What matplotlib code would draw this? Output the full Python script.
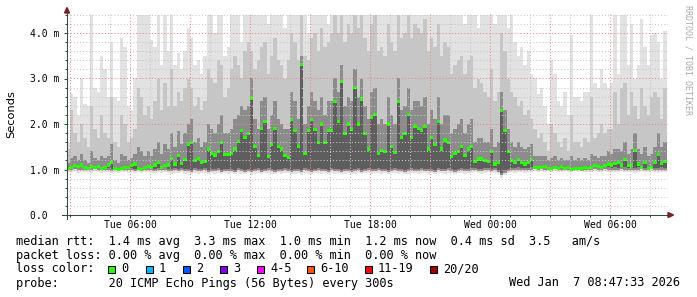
import numpy as np
import matplotlib
matplotlib.use('Agg')
import matplotlib.pyplot as plt
from matplotlib.patches import Polygon, Rectangle
from matplotlib.lines import Line2D
from matplotlib.transforms import IdentityTransform

W, H = 697, 297
MONO = 'DejaVu Sans Mono'

# 10-minute bins, hours since Tue 00:00 (first bin starts Tue 02:50)
START = 2 + 50 / 60
STEP = 1 / 6

# median rtt per bin (ms)
med = [1.03, 1.05, 1.08, 1.06, 1.10, 1.04, 1.02, 1.06, 1.05, 1.07, 1.03, 1.05,
       1.10, 1.15, 1.03, 1.00, 1.02, 1.05, 1.04, 1.08, 1.12, 1.02, 1.00, 1.05,
       1.06, 1.04, 1.10, 1.16, 1.05, 1.08, 1.10, 1.25, 1.12, 1.30, 1.14, 1.22,
       1.55, 1.60, 1.20, 1.25, 1.15, 1.18, 1.45, 1.35, 1.32, 1.40, 1.60, 1.33,
       1.33, 1.36, 1.45, 1.62, 1.86, 1.70, 1.80, 2.57, 1.50, 1.30, 1.90, 2.05,
       1.28, 1.55, 1.90, 1.50, 1.45, 1.30, 1.27, 2.10, 1.85, 1.50, 3.30, 1.35,
       1.85, 2.10, 1.88, 1.60, 2.00, 1.60, 1.85, 1.85, 2.50, 2.05, 2.93, 1.80,
       2.00, 1.88, 2.80, 2.00, 2.55, 1.80, 1.45, 2.15, 2.20, 1.35, 1.42, 1.40,
       2.00, 1.50, 1.38, 2.50, 1.70, 1.80, 2.20, 1.70, 1.95, 1.90, 1.85, 1.95,
       1.45, 1.70, 1.55, 2.05, 1.45, 1.65, 1.60, 1.28, 1.35, 1.40, 1.50, 1.30,
       1.45, 1.50, 1.18, 1.23, 1.23, 1.20, 1.18, 1.40, 1.12, 1.15, 2.30, 1.85,
       1.40, 1.20, 1.15, 1.22, 1.15, 1.12, 1.15, 1.22, 1.05, 1.05, 1.05, 1.06,
       1.03, 1.02, 1.05, 1.03, 1.06, 1.02, 1.04, 1.00, 1.02, 1.03, 1.01, 1.04,
       1.02, 1.05, 1.08, 1.06, 1.04, 1.08, 1.12, 1.10, 1.13, 1.16, 1.10, 1.22,
       1.08, 1.10, 1.42, 1.12, 1.05, 1.15, 1.02, 1.05, 1.15, 1.33, 1.13, 1.18]

# smoke: lowest ping, upper edge of dark smoke, upper edge of mid smoke, highest ping
lo = [0.95, 0.94, 0.96, 0.93, 0.95, 0.94, 0.95, 0.93, 0.96, 0.94, 0.93, 0.95,
      0.94, 0.92, 0.95, 0.93, 0.94, 0.95, 0.93, 0.94, 0.92, 0.94, 0.93, 0.95,
      0.94, 0.93, 0.92, 0.94, 0.93, 0.95, 0.92, 0.91, 0.93, 0.92, 0.94, 0.91,
      0.92, 0.90, 0.93, 0.91, 0.92, 0.93, 0.90, 0.92, 0.91, 0.93, 0.90, 0.92,
      0.91, 0.92, 0.90, 0.93, 0.91, 0.90, 0.92, 0.89, 0.91, 0.93, 0.90, 0.92,
      0.93, 0.91, 0.90, 0.92, 0.91, 0.93, 0.92, 0.90, 0.91, 0.92, 0.89, 0.93,
      0.91, 0.90, 0.92, 0.93, 0.91, 0.92, 0.90, 0.93, 0.91, 0.92, 0.90, 0.91,
      0.92, 0.90, 0.91, 0.93, 0.90, 0.92, 0.93, 0.91, 0.92, 0.93, 0.91, 0.92,
      0.90, 0.92, 0.93, 0.91, 0.92, 0.90, 0.91, 0.93, 0.92, 0.91, 0.93, 0.92,
      0.91, 0.92, 0.90, 0.93, 0.92, 0.91, 0.93, 0.92, 0.90, 0.92, 0.93, 0.91,
      0.92, 0.93, 0.94, 0.92, 0.91, 0.93, 0.94, 0.92, 0.93, 0.90, 0.82, 0.88,
      0.92, 0.94, 0.93, 0.95, 0.94, 0.93, 0.94, 0.95, 0.96, 0.95, 0.96, 0.95,
      0.96, 0.95, 0.96, 0.94, 0.95, 0.96, 0.95, 0.94, 0.96, 0.95, 0.96, 0.95,
      0.95, 0.94, 0.96, 0.95, 0.94, 0.96, 0.95, 0.94, 0.95, 0.94, 0.96, 0.95,
      0.94, 0.95, 0.93, 0.95, 0.96, 0.94, 0.95, 0.96, 0.94, 0.93, 0.95, 0.94]

dk = [1.15, 1.25, 1.30, 1.20, 1.35, 1.20, 1.15, 1.40, 1.25, 1.20, 1.30, 1.25,
      1.30, 1.55, 1.20, 1.15, 1.35, 1.30, 1.20, 1.25, 1.35, 1.50, 1.40, 1.30,
      1.40, 1.30, 1.45, 1.60, 1.35, 1.55, 1.45, 1.80, 1.50, 1.85, 1.55, 1.80,
      2.00, 2.10, 1.60, 1.70, 1.50, 1.60, 2.00, 1.90, 1.80, 2.00, 2.20, 1.80,
      1.80, 1.90, 2.10, 2.20, 2.40, 2.30, 2.40, 3.00, 2.10, 1.90, 2.50, 2.60,
      1.90, 2.20, 2.50, 2.10, 2.00, 1.90, 1.90, 2.70, 2.50, 2.10, 3.50, 2.00,
      2.40, 2.70, 2.50, 2.30, 2.60, 2.20, 2.50, 2.50, 3.00, 2.70, 3.30, 2.40,
      2.60, 2.50, 3.20, 2.60, 3.00, 2.40, 2.10, 2.70, 2.80, 2.00, 2.10, 2.00,
      2.60, 2.20, 2.00, 3.00, 2.30, 2.40, 2.80, 2.30, 2.50, 2.50, 2.40, 2.60,
      2.00, 2.30, 2.10, 2.60, 2.00, 2.20, 2.20, 1.80, 1.90, 2.00, 2.10, 1.80,
      2.00, 2.10, 1.60, 1.70, 1.70, 1.60, 1.60, 1.90, 1.50, 1.60, 2.70, 2.30,
      1.90, 1.60, 1.50, 1.60, 1.50, 1.45, 1.50, 1.55, 1.30, 1.30, 1.30, 1.30,
      1.20, 1.25, 1.30, 1.20, 1.25, 1.20, 1.20, 1.30, 1.20, 1.25, 1.20, 1.25,
      1.20, 1.35, 1.30, 1.25, 1.30, 1.30, 1.40, 1.35, 1.45, 1.45, 1.40, 1.60,
      1.35, 1.45, 1.80, 1.45, 1.35, 1.50, 1.30, 1.35, 1.50, 1.80, 1.50, 1.60]

up = [1.45, 2.30, 1.80, 1.60, 2.00, 1.70, 1.50, 2.40, 1.90, 1.70, 2.20, 1.80,
      1.70, 2.60, 1.60, 1.50, 2.20, 2.00, 1.60, 1.70, 1.90, 2.80, 2.60, 2.20,
      2.40, 2.10, 2.50, 3.00, 2.30, 2.90, 2.40, 3.20, 2.40, 2.70, 2.50, 2.80,
      3.00, 2.80, 2.40, 2.60, 2.30, 2.50, 3.20, 3.00, 2.90, 3.40, 3.30, 2.60,
      2.80, 3.20, 3.50, 3.30, 3.00, 3.60, 3.80, 3.60, 3.20, 3.40, 3.70, 3.80,
      3.10, 3.50, 3.90, 3.40, 3.30, 3.00, 3.40, 4.00, 3.80, 3.40, 4.40, 3.50,
      3.40, 3.90, 4.00, 3.60, 4.10, 3.70, 3.80, 4.00, 4.40, 4.00, 4.40, 3.80,
      4.20, 4.00, 4.40, 4.10, 4.40, 3.90, 3.60, 4.20, 4.40, 3.60, 3.70, 3.50,
      4.20, 3.80, 3.60, 4.40, 3.90, 4.00, 4.40, 3.90, 4.20, 4.10, 4.00, 4.30,
      3.60, 3.90, 3.70, 4.20, 3.50, 3.80, 3.70, 3.10, 3.30, 3.40, 3.50, 3.10,
      3.40, 3.50, 2.80, 3.00, 2.90, 2.70, 2.60, 3.20, 2.50, 2.70, 4.00, 3.60,
      3.00, 2.70, 2.60, 2.40, 2.50, 2.20, 2.30, 2.10, 1.90, 1.70, 1.80, 1.60,
      1.40, 2.00, 1.80, 1.60, 1.50, 1.70, 1.40, 2.20, 1.60, 1.60, 1.50, 1.70,
      1.60, 2.60, 1.70, 1.80, 2.00, 1.80, 1.90, 1.90, 2.70, 2.00, 2.80, 2.90,
      2.20, 2.70, 2.40, 2.10, 2.80, 2.40, 2.20, 2.60, 2.70, 2.60, 2.10, 2.80]

hi = [1.60, 2.65, 2.60, 2.20, 3.00, 2.45, 2.40, 4.40, 2.80, 2.70, 3.50, 3.20,
      2.60, 3.80, 2.60, 2.50, 3.90, 3.70, 2.40, 2.30, 3.00, 4.40, 4.40, 4.40,
      4.40, 3.85, 3.70, 4.40, 3.30, 4.40, 3.60, 4.40, 3.30, 3.55, 3.20, 3.60,
      4.10, 3.90, 3.30, 3.40, 3.10, 3.50, 4.40, 4.40, 4.00, 4.40, 4.40, 3.50,
      3.70, 4.40, 4.40, 4.40, 3.80, 4.40, 4.40, 4.40, 4.40, 4.40, 4.40, 4.40,
      4.20, 4.40, 4.40, 4.40, 4.40, 4.10, 4.40, 4.40, 4.40, 4.40, 4.40, 4.40,
      4.00, 4.40, 4.40, 4.40, 4.40, 4.40, 4.20, 4.40, 4.40, 4.40, 4.40, 4.40,
      4.40, 4.40, 4.40, 4.40, 4.40, 4.40, 4.40, 4.40, 4.40, 4.40, 4.40, 4.40,
      4.40, 4.40, 4.40, 4.40, 4.40, 4.40, 4.40, 4.40, 4.40, 4.40, 4.40, 4.40,
      4.40, 4.40, 4.40, 4.40, 4.40, 4.40, 4.40, 4.40, 4.40, 4.40, 4.40, 4.20,
      4.40, 4.40, 4.40, 4.10, 4.40, 4.40, 4.40, 4.40, 4.20, 4.40, 4.40, 4.40,
      4.10, 4.40, 3.80, 3.50, 3.70, 3.30, 3.60, 3.10, 3.00, 2.65, 2.80, 2.40,
      2.00, 3.40, 3.10, 2.50, 2.40, 2.70, 2.20, 3.95, 2.60, 2.60, 2.50, 2.70,
      2.70, 4.40, 2.90, 2.80, 3.20, 2.90, 2.80, 2.90, 4.40, 3.10, 4.40, 4.40,
      3.30, 4.20, 3.00, 3.30, 4.30, 3.70, 3.30, 3.95, 4.00, 3.80, 3.00, 4.05]

x_ticks = [6, 12, 18, 24, 30]
x_labels = ['Tue 06:00', 'Tue 12:00', 'Tue 18:00', 'Wed 00:00', 'Wed 06:00']
y_ticks = [0, 1, 2, 3, 4]
y_labels = ['0.0  ', '1.0 m', '2.0 m', '3.0 m', '4.0 m']

loss_labels = ['0', '1', '2', '3', '4-5', '6-10', '11-19', '20/20']
loss_colors = ['#26ff00', '#00b8ff', '#0059ff', '#7e00ff', '#ff00ff', '#ff5500', '#ff0000', '#a10000']
loss_box_x = [108, 146, 183, 220, 257, 307, 365, 430]

rtt_line = 'median rtt:  1.4 ms avg  3.3 ms max  1.0 ms min  1.2 ms now  0.4 ms sd  3.5   am/s'
loss_line = 'packet loss: 0.00 % avg  0.00 % max  0.00 % min  0.00 % now'
probe_line = 'probe:       20 ICMP Echo Pings (56 Bytes) every 300s'
stamp = 'Wed Jan  7 08:47:33 2026'

med, lo, dk, up, hi = (np.array(a) for a in (med, lo, dk, up, hi))
x = START + np.arange(len(med)) * STEP
FRINGE = 0.05

fig = plt.figure(figsize=(W / 100, H / 100), dpi=100)
fig.patch.set_facecolor('white')
ax = fig.add_axes([67 / W, (H - 215) / H, 601 / W, 201 / H])
ax.set_xlim(2.85, 2.85 + 601 / 20)
ax.set_ylim(0, 201 / 45.5)

# smoke, light to dark
bar_kw = dict(width=STEP, align='edge', lw=0, antialiased=False, zorder=1)
ax.bar(x, hi - lo, bottom=lo, color='#e2e2e2', **bar_kw)
ax.bar(x, up - lo - FRINGE, bottom=lo + FRINGE, color='#c6c6c6', **bar_kw)
ax.bar(x, dk - lo - FRINGE, bottom=lo + FRINGE, color='#8c8c8c', **bar_kw)
ax.bar(x, med - lo - 2 * FRINGE, bottom=lo + 2 * FRINGE, color='#5e5e5e', **bar_kw)
# median
ax.bar(x, 0.07, bottom=med - 0.035, color=loss_colors[0], **dict(bar_kw, zorder=2))

# grid on top, like rrdtool
dots = (0, (1, 2))
for v in np.arange(0.2, 4.41, 0.2):
    major = abs(v - round(v)) < 1e-6
    ax.axhline(v, color='#e88a8a' if major else '#c8c8c8', lw=0.75, ls=dots, zorder=3)
for hr in range(3, 33):
    ax.axvline(hr, color='#e88a8a' if hr % 3 == 0 else '#c8c8c8', lw=0.75, ls=dots, zorder=3)

for s in ax.spines.values():
    s.set_visible(False)
ax.set_xticks(x_ticks)
ax.set_xticklabels(x_labels, fontfamily=MONO, fontsize=7)
ax.set_xticks(range(3, 33), minor=True)
ax.set_yticks(y_ticks)
ax.set_yticklabels(y_labels, fontfamily=MONO, fontsize=7)
ax.set_yticks(np.arange(0, 4.41, 0.2), minor=True)
ax.tick_params(which='major', length=2, width=0.75, color='#2c4d43')
ax.tick_params(which='minor', length=1.5, width=0.75, color='#2c4d43')
ax.tick_params(axis='x', pad=1.5)
ax.tick_params(axis='y', pad=3.5)

# axes with arrowheads, drawn in pixel space
def px(xp, yp):
    return (xp, H - yp)

ident = IdentityTransform()
fig.add_artist(Line2D([67, 67], [H - 219, H - 12], color='#2c4d43', lw=0.75, transform=ident))
fig.add_artist(Line2D([62, 669], [H - 215, H - 215], color='#2c4d43', lw=0.75, transform=ident))
fig.add_artist(Polygon([px(64.5, 13), px(69.5, 13), px(67, 7.5)], closed=True,
                       color='#7f1f1f', transform=ident))
fig.add_artist(Polygon([px(668, 212.5), px(668, 217.5), px(673.5, 215)], closed=True,
                       color='#7f1f1f', transform=ident))

fig.text(11 / W, 1 - 114 / H, 'Seconds', rotation=90, ha='center', va='center',
         fontsize=8.2, color='#000000')
fig.text(688 / W, 1 - 5 / H, 'RRDTOOL / TOBI OETIKER', rotation=270, ha='center', va='top',
         fontfamily=MONO, fontsize=6, color='#aaaaaa')

fs = 8.55
fig.text(16 / W, 1 - 241 / H, rtt_line, fontfamily=MONO, fontsize=fs, va='center')
fig.text(16 / W, 1 - 255 / H, loss_line, fontfamily=MONO, fontsize=fs, va='center')
fig.text(16 / W, 1 - 269 / H, 'loss color:', fontfamily=MONO, fontsize=fs, va='center')
for bx, lab, col in zip(loss_box_x, loss_labels, loss_colors):
    fig.add_artist(Rectangle(px(bx, 272.5), 7, 7, facecolor=col, edgecolor='black',
                             lw=0.75, transform=ident))
    fig.text((bx + 13) / W, 1 - 269 / H, lab, fontfamily=MONO, fontsize=fs, va='center')
fig.text(16 / W, 1 - 283 / H, probe_line, fontfamily=MONO, fontsize=fs, va='center')
fig.text(680 / W, 1 - 283 / H, stamp, fontfamily=MONO, fontsize=fs, va='center', ha='right')

fig.savefig('out.png', dpi=100)
